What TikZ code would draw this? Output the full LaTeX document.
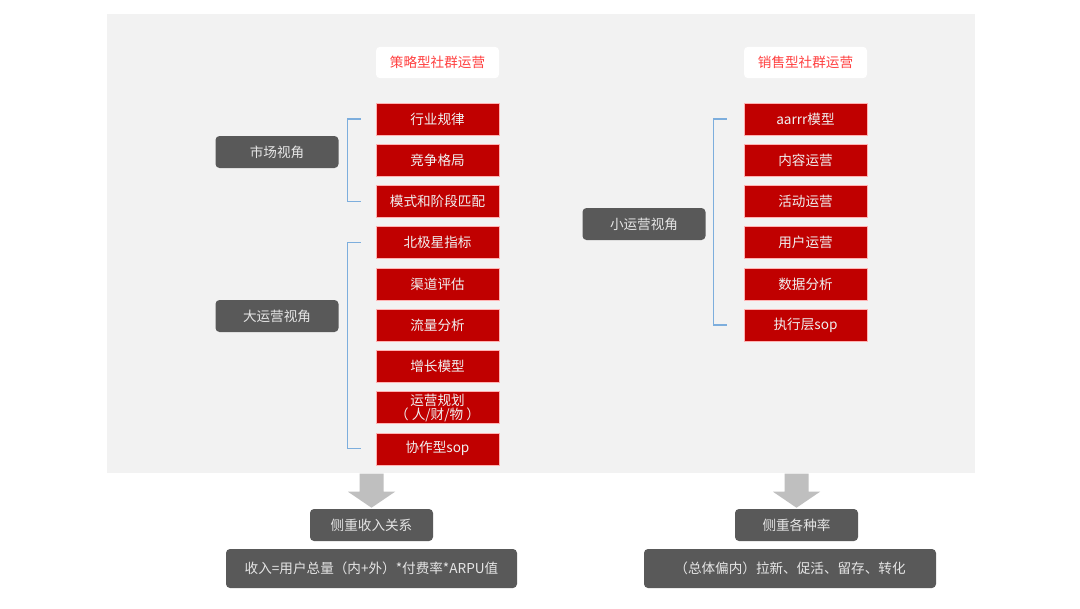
\documentclass[tikz,border=0pt]{standalone}
\usepackage{fontspec}
\setmainfont{Noto Sans CJK SC}
\usetikzlibrary{positioning,calc}
\definecolor{bggray}{HTML}{F2F2F2}
\definecolor{dred}{HTML}{C00000}
\definecolor{dgray}{HTML}{595959}
\definecolor{hred}{HTML}{FF4040}
\definecolor{brblue}{HTML}{7DAEDD}
\definecolor{agray}{HTML}{BFBFBF}
\tikzset{px/.style={x=0.75pt, y=-0.75pt}}
\tikzset{txt/.style={font=\fontsize{10.2}{10.5}\selectfont}}
\tikzset{redbox/.style={txt, fill=dred, draw=red!30!white, line width=0.3pt, text=white!94!black, minimum width=92.25pt, minimum height=24pt, inner sep=0pt, align=center}}
\tikzset{headbox/.style={txt, fill=white, rounded corners=3pt, text=hred, minimum width=92.25pt, minimum height=23.5pt, inner sep=0pt}}
\tikzset{darkbox/.style={txt, fill=dgray, rounded corners=3pt, text=white!90!black, minimum width=92.25pt, minimum height=24pt, inner sep=0pt}}
\tikzset{brkt/.style={draw=brblue, line width=1pt}}
\tikzset{blockarr/.style={fill=agray, draw=none}}
\begin{document}
\begin{tikzpicture}[px, node distance=6.62pt]
			\useasboundingbox[fill=white] (0,0) rectangle (1080,608);
			\fill[bggray] (107,14) rectangle (975,473);
			%
			\node[headbox] (hl) at (437.5,62.5) {策略型社群运营};
			\node[headbox] (hr) at (805.5,62.5) {销售型社群运营};
			%
			\node[redbox] (hygl) at (437.5,119) {行业规律};
			\node[redbox,below=of hygl] (jzgj) {竞争格局};
			\node[redbox,below=of jzgj] (mspp) {模式和阶段匹配};
			\node[redbox,below=of mspp] (bjx) {北极星指标};
			\node[redbox,below=of bjx] (qdpg) {渠道评估};
			\node[redbox,below=of qdpg] (llfx) {流量分析};
			\node[redbox,below=of llfx] (zzmx) {增长模型};
			\node[redbox,below=of zzmx] (yygh) {运营规划\\（ 人/财/物 ）};
			\node[redbox,below=of yygh] (xzsop) {协作型sop};
			%
			\node[redbox] (aarrr) at (805.5,119) {aarrr模型};
			\node[redbox,below=of aarrr] (nryy) {内容运营};
			\node[redbox,below=of nryy] (hdyy) {活动运营};
			\node[redbox,below=of hdyy] (yhyy) {用户运营};
			\node[redbox,below=of yhyy] (sjfx) {数据分析};
			\node[redbox,below=of sjfx] (zxsop) {执行层sop};
			%
			\node[darkbox] (scsj) at (277,152) {市场视角};
			\node[darkbox] (dyy) at (277,316) {大运营视角};
			\node[darkbox] (xyy) at (644,224) {小运营视角};
			%
			\draw[brkt] ($(hygl.west)+(-15,0)$) -- ++(-13,0) |- ($(mspp.west)+(-15,0)$);
			\draw[brkt] ($(bjx.west)+(-15,0)$) -- ++(-13,0) |- ($(xzsop.west)+(-15,0)$);
			\draw[brkt] ($(aarrr.west)+(-17,0)$) -- ++(-13,0) |- ($(zxsop.west)+(-17,0)$);
			%
			\node[darkbox] (zsr) at (371.5,525) {侧重收入关系};
			\node[darkbox, minimum width=218.25pt, minimum height=29.25pt] (sr) at (371.5,568.5) {收入=用户总量（内+外）*付费率*ARPU值};
			\node[darkbox] (zgz) at (796.5,525) {侧重各种率};
			\node[darkbox, minimum width=219pt, minimum height=29.25pt] (ztpn) at (790,568.5) {（总体偏内）拉新、促活、留存、转化};
			%
			\fill[blockarr] ($(zsr.north)+(0,-1)$) -- ++(23.5,-16) -- ++(-11.5,0) -- ++(0,-18)
				-- ++(-24,0) -- ++(0,18) -- ++(-11.5,0) -- cycle;
			\fill[blockarr] ($(zgz.north)+(0,-1)$) -- ++(23.5,-16) -- ++(-11.5,0) -- ++(0,-18)
				-- ++(-24,0) -- ++(0,18) -- ++(-11.5,0) -- cycle;
		\end{tikzpicture}
\end{document}
